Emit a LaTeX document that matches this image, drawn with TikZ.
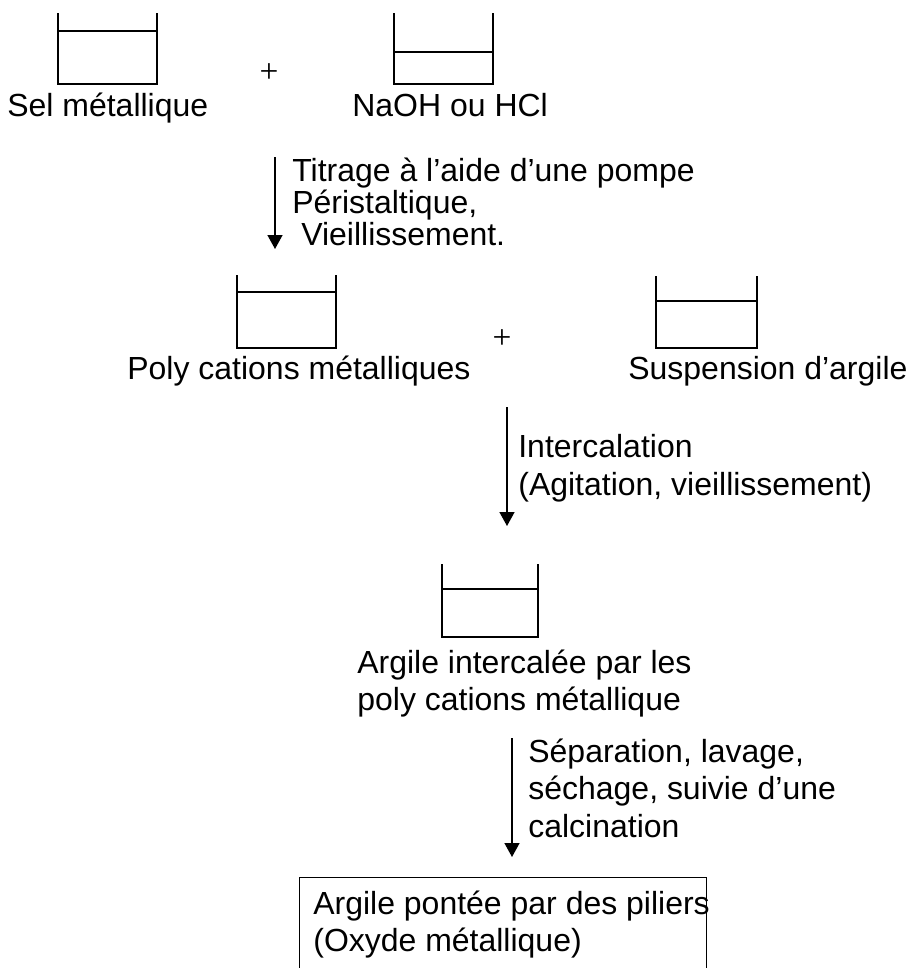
\documentclass[tikz,border=0pt]{standalone}
\usepackage{fontspec}
\setmainfont{Liberation Sans}
\newfontfamily\signefont{Liberation Serif}
\usetikzlibrary{arrows.meta}

\begin{document}
\begin{tikzpicture}[
    x=0.2mm, y=-0.2mm,
    line join=miter,
    becher/.style    = {line width=0.4mm},
    cadre/.style     = {line width=0.2mm},
    fleche/.style    = {line width=0.3mm, -{Triangle[length=2.8mm,width=3mm]}},
    etiquette/.style = {font=\fontsize{18.2}{21}\selectfont, inner sep=0pt, anchor=base west, align=left},
    signe/.style     = {font=\signefont\fontsize{19}{22}\selectfont, inner sep=0pt}
]
\useasboundingbox (0,0) rectangle (910,968);

% ---- bechers ----
\foreach \xg/\xd/\yh/\yl/\yb in {58/157/13/31/84, 394/493/13/52/84,
    237/336/275/292/348, 656/757/276/301/348, 442/538/564/589/637}{
    \draw[becher] (\xg,\yh) -- (\xg,\yb) -- (\xd,\yb) -- (\xd,\yh);
    \draw[becher] (\xg,\yl) -- (\xd,\yl);
}

% ---- reactifs ----
\node[etiquette] (sel) at (7,116) {Sel métallique};
\node[etiquette] (base) at (352,116) {NaOH ou HCl};
\node[signe] (plus1) at (269,73) {+};

% ---- titrage (ancre = derniere ligne) ----
\coordinate (t1) at (275,157);
\coordinate (t2) at (275,249);
\draw[fleche] (t1) -- (t2);
\node[etiquette, font=\fontsize{18.2}{18.2}\selectfont] (titrage) at (292,245)
    {Titrage à l’aide d’une pompe\\Péristaltique,\\\hspace*{0.28em}Vieillissement.};

% ---- polycations + argile ----
\node[etiquette] (poly) at (127,379) {Poly cations métalliques};
\node[etiquette] (susp) at (628,379) {Suspension d’argile};
\node[signe] (plus2) at (502,339) {+};

% ---- intercalation ----
\coordinate (i1) at (507,407);
\coordinate (i2) at (507,526);
\draw[fleche] (i1) -- (i2);
\node[etiquette, font=\fontsize{18.2}{21.6}\selectfont] (interc) at (518,495)
    {Intercalation\\(Agitation, vieillissement)};

\node[etiquette] (argint) at (357,710)
    {Argile intercalée par les\\poly cations métallique};

% ---- separation, calcination ----
\coordinate (s1) at (512,738);
\coordinate (s2) at (512,857);
\draw[fleche] (s1) -- (s2);
\node[etiquette, font=\fontsize{18.2}{21.3}\selectfont] (sep) at (528,837)
    {Séparation, lavage,\\séchage, suivie d’une\\calcination};

% ---- produit final ----
\draw[cadre] (299,968) -- (299,877) -- (706,877) -- (706,968);
\node[etiquette] (pontee) at (313,951)
    {Argile pontée par des piliers\\(Oxyde métallique)};

\end{tikzpicture}
\end{document}
